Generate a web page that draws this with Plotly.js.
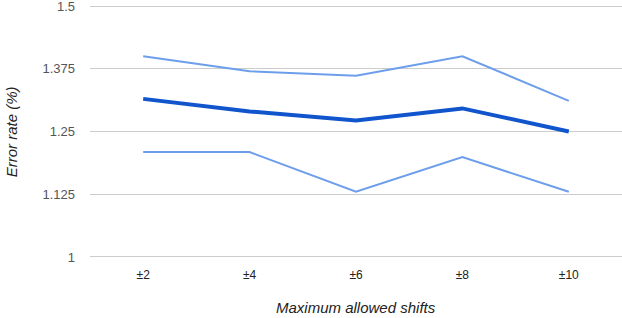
<!DOCTYPE html>
<html>
<head>
<meta charset="utf-8">
<script src="https://cdn.plot.ly/plotly-3.0.1.min.js"></script>
<style>html,body{margin:0;padding:0;background:#fff;}#chart{width:622px;height:318px;}</style>
</head>
<body>
<div id="chart"></div>
<script>
const categories = ["±2", "±4", "±6", "±8", "±10"];
const upperValues = [1.400, 1.370, 1.361, 1.400, 1.311];
const meanValues = [1.315, 1.290, 1.272, 1.296, 1.250];
const lowerValues = [1.209, 1.209, 1.130, 1.199, 1.130];
const yTickVals = [1, 1.125, 1.25, 1.375, 1.5];
const yTickText = ["1", "1.125", "1.25", "1.375", "1.5"];
const xTitle = "Maximum allowed shifts";
const yTitle = "Error rate (%)";

const traces = [
  {x: categories, y: upperValues, type: "scatter", mode: "lines", line: {color: "#6d9eeb", width: 2}, hoverinfo: "skip"},
  {x: categories, y: lowerValues, type: "scatter", mode: "lines", line: {color: "#6d9eeb", width: 2}, hoverinfo: "skip"},
  {x: categories, y: meanValues, type: "scatter", mode: "lines", line: {color: "#1155cc", width: 4}, hoverinfo: "skip"}
];

const titleFont = {family: "Liberation Sans, Arial, sans-serif", size: 15, color: "#222", style: "italic"};

const layout = {
  width: 622, height: 318,
  margin: {l: 90, r: 0, t: 1, b: 56, pad: 0},
  paper_bgcolor: "#fff", plot_bgcolor: "#fff",
  showlegend: false,
  font: {family: "Liberation Sans, Arial, sans-serif", color: "#444"},
  xaxis: {
    type: "category", range: [-0.5, 4.5],
    showgrid: false, zeroline: false, showline: false,
    ticks: "", tickfont: {size: 12, color: "#222"},
    ticklabelstandoff: 4
  },
  yaxis: {
    range: [0.99, 1.51],
    tickvals: yTickVals, ticktext: yTickText,
    showgrid: true, gridcolor: "#cccccc", gridwidth: 1,
    zeroline: false, showline: false, ticks: "",
    tickfont: {size: 13, color: "#555"},
    ticklabelstandoff: 14,
    ticklabeloverflow: "allow"
  },
  annotations: [
    {text: xTitle, xref: "paper", yref: "paper", x: 0.5, y: -0.174, xanchor: "center", yanchor: "middle", showarrow: false, font: titleFont},
    {text: yTitle, xref: "paper", yref: "paper", x: -0.147, y: 0.5, xanchor: "center", yanchor: "middle", textangle: -90, showarrow: false, font: titleFont}
  ]
};
Plotly.newPlot("chart", traces, layout, {staticPlot: true, displayModeBar: false});
</script>
</body>
</html>
